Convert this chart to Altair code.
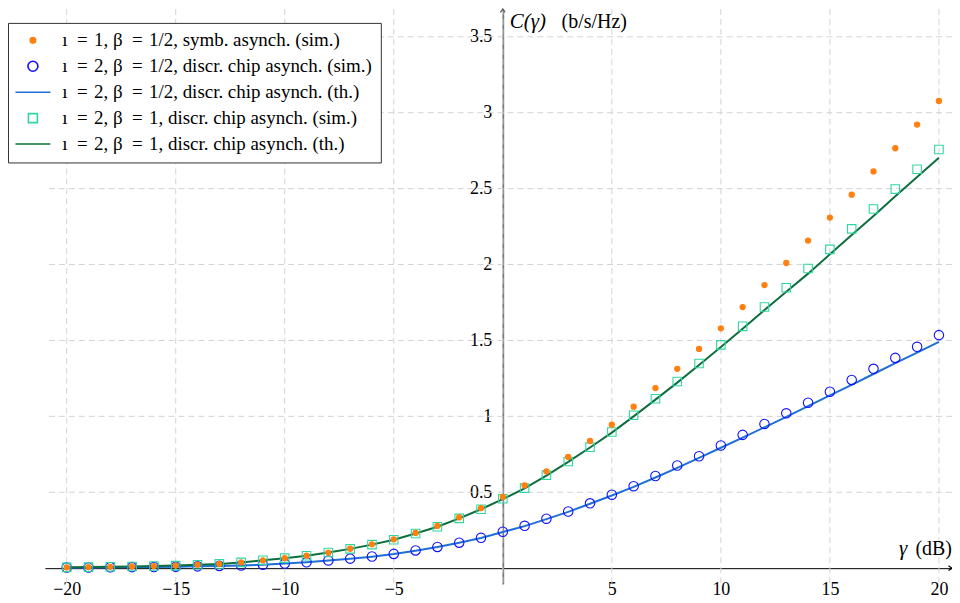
import altair as alt
import pandas as pd

# ---------------- data ----------------
gamma_db = list(range(-20, 21))

sim_symb_half = [0.005, 0.007, 0.009, 0.011, 0.014, 0.017, 0.023, 0.028, 0.038, 0.052,
                 0.066, 0.082, 0.103, 0.128, 0.157, 0.190, 0.232, 0.278, 0.334, 0.395,
                 0.470, 0.545, 0.637, 0.733, 0.838, 0.945, 1.064, 1.186, 1.313, 1.444,
                 1.580, 1.720, 1.865, 2.010, 2.158, 2.309, 2.460, 2.613, 2.766, 2.922, 3.077]

sim_chip_half = [0.004, 0.005, 0.006, 0.007, 0.008, 0.010, 0.012, 0.015, 0.018, 0.023,
                 0.030, 0.039, 0.051, 0.063, 0.077, 0.094, 0.117, 0.140, 0.168, 0.200,
                 0.240, 0.279, 0.326, 0.373, 0.427, 0.484, 0.540, 0.607, 0.676, 0.737,
                 0.808, 0.878, 0.950, 1.020, 1.090, 1.162, 1.240, 1.313, 1.385, 1.458, 1.535]

th_chip_half = [0.004, 0.005, 0.006, 0.007, 0.008, 0.010, 0.012, 0.015, 0.018, 0.023,
                0.030, 0.039, 0.050, 0.062, 0.076, 0.093, 0.115, 0.139, 0.167, 0.199,
                0.238, 0.277, 0.323, 0.371, 0.424, 0.479, 0.535, 0.597, 0.661, 0.726,
                0.793, 0.860, 0.928, 0.997, 1.067, 1.138, 1.208, 1.279, 1.350, 1.420, 1.490]

sim_chip_one = [0.005, 0.007, 0.009, 0.011, 0.014, 0.017, 0.023, 0.028, 0.038, 0.052,
                0.066, 0.082, 0.103, 0.127, 0.155, 0.187, 0.228, 0.273, 0.328, 0.388,
                0.457, 0.527, 0.613, 0.703, 0.797, 0.897, 1.007, 1.116, 1.230, 1.348,
                1.471, 1.593, 1.720, 1.847, 1.974, 2.100, 2.235, 2.366, 2.497, 2.628, 2.758]

th_chip_one = [0.005, 0.007, 0.009, 0.011, 0.014, 0.017, 0.023, 0.028, 0.038, 0.052,
               0.066, 0.082, 0.103, 0.127, 0.155, 0.187, 0.228, 0.273, 0.328, 0.388,
               0.455, 0.525, 0.610, 0.700, 0.795, 0.893, 1.000, 1.110, 1.222, 1.338,
               1.457, 1.577, 1.700, 1.820, 1.940, 2.067, 2.194, 2.320, 2.449, 2.576, 2.703]

series_labels = [
    "ı\u2002=\u20041, β\u2002=\u20041/2, symb. asynch. (sim.)",
    "ı\u2002=\u20042, β\u2002=\u20041/2, discr. chip asynch. (sim.)",
    "ı\u2002=\u20042, β\u2002=\u20041/2, discr. chip asynch. (th.)",
    "ı\u2002=\u20042, β\u2002=\u20041, discr. chip asynch. (sim.)",
    "ı\u2002=\u20042, β\u2002=\u20041, discr. chip asynch. (th.)",
]
series_colors = ["#ff8010", "#1010ff", "#1f6fd6", "#2fd6a0", "#0e6e3e"]
series_fills = ["#ff8010", "transparent", "transparent", "transparent", "transparent"]

x_ticks = [-20, -15, -10, -5, 5, 10, 15, 20]
x_grid = [-20, -15, -10, -5, 0, 5, 10, 15, 20]
y_ticks = [0.5, 1, 1.5, 2, 2.5, 3, 3.5]

X_MIN, X_MAX = -21.0, 20.6
Y_MIN, Y_MAX = -0.105, 3.6835
W, H = 910, 577

# ---------------- tables ----------------
pts = pd.concat([
    pd.DataFrame({"x": gamma_db, "y": sim_chip_half, "series": series_labels[1]}),
    pd.DataFrame({"x": gamma_db, "y": sim_chip_one, "series": series_labels[3]}),
    pd.DataFrame({"x": gamma_db, "y": sim_symb_half, "series": series_labels[0]}),
], ignore_index=True)
lines = pd.concat([
    pd.DataFrame({"x": gamma_db, "y": th_chip_half, "series": series_labels[2]}),
    pd.DataFrame({"x": gamma_db, "y": th_chip_one, "series": series_labels[4]}),
], ignore_index=True)

FONT = "Liberation Serif"
xscale = alt.Scale(domain=[X_MIN, X_MAX], nice=False, zero=False)
yscale = alt.Scale(domain=[Y_MIN, Y_MAX], nice=False, zero=False)
x_off = -(0 - X_MIN) / (X_MAX - X_MIN) * W
y_off = -(0 - Y_MIN) / (Y_MAX - Y_MIN) * H

xaxis = alt.Axis(values=x_ticks, offset=y_off, domainColor="black", domainWidth=1,
                 ticks=False, grid=False, labelFont=FONT, labelFontSize=18,
                 labelColor="black", labelPadding=12, title=None, format="~g")
yaxis = alt.Axis(values=y_ticks, offset=x_off, domainColor="#7a7a7a", domainWidth=1.8,
                 ticks=False, grid=False, labelFont=FONT, labelFontSize=18,
                 labelColor="black", labelPadding=11, title=None, format="~g")

def X(f="x"):
    return alt.X(f"{f}:Q", scale=xscale, axis=xaxis)

def Y(f="y"):
    return alt.Y(f"{f}:Q", scale=yscale, axis=yaxis)

DOT = "M-0.55,0A0.55,0.55 0 1,0 0.55,0A0.55,0.55 0 1,0 -0.55,0Z"
LINE = "M-3.5,0H3.5"
SQ = "M-0.9,-0.9H0.9V0.9H-0.9Z"
series_shapes = [DOT, "circle", LINE, SQ, LINE]

legend = alt.Legend(orient="none", legendX=-37, legendY=14, title=None,
                    strokeColor="#333333", fillColor="white", padding=8,
                    labelFont=FONT, labelFontSize=19, labelColor="black",
                    labelLimit=0, symbolOffset=7.5, labelOffset=20, rowPadding=6,
                    symbolSize=100, symbolStrokeWidth=1.6, cornerRadius=0)

stroke_enc = alt.Stroke("series:N", scale=alt.Scale(domain=series_labels, range=series_colors), legend=legend)
fill_enc = alt.Fill("series:N", scale=alt.Scale(domain=series_labels, range=series_fills), legend=legend)
shape_enc = alt.Shape("series:N", scale=alt.Scale(domain=series_labels, range=series_shapes), legend=legend)

grid_v = alt.Chart(pd.DataFrame({"x": x_grid})).mark_rule(
    color="#d4d4d4", strokeWidth=1, strokeDash=[6, 4]).encode(x=X())
grid_h = alt.Chart(pd.DataFrame({"y": y_ticks})).mark_rule(
    color="#d4d4d4", strokeWidth=1, strokeDash=[6, 4]).encode(y=Y())

line_layer = alt.Chart(lines).mark_line(strokeWidth=2).encode(
    x=X(), y=Y(), stroke=stroke_enc, order="x:Q")

point_layer = alt.Chart(pts).mark_point(size=90, strokeWidth=1.1, opacity=1).encode(
    x=X(), y=Y(), stroke=stroke_enc, fill=fill_enc, shape=shape_enc)

# axis arrows at the ends of the axes
arr_y = alt.Chart(pd.DataFrame({"x": [0.0], "y": [Y_MAX]})).mark_point(
    shape="M-0.6,0.9L0,0L0.6,0.9", size=60, stroke="#555555", strokeWidth=1.2,
    filled=False, opacity=1).encode(x=X(), y=Y())
arr_x = alt.Chart(pd.DataFrame({"x": [X_MAX], "y": [0.0]})).mark_point(
    shape="M-0.9,-0.6L0,0L-0.9,0.6", size=60, stroke="black", strokeWidth=1.2,
    filled=False, opacity=1).encode(x=X(), y=Y())

# axis titles
ytitle_a = alt.Chart(pd.DataFrame({"x": [0.32], "y": [3.6], "t": ["C(γ)"]})).mark_text(
    font=FONT, fontSize=21, fontStyle="italic", align="left", baseline="middle",
    color="black").encode(x=X(), y=Y(), text="t:N")
ytitle_b = alt.Chart(pd.DataFrame({"x": [0.32], "y": [3.6], "t": ["(b/s/Hz)"]})).mark_text(
    font=FONT, fontSize=20, align="left", baseline="middle", dx=52,
    color="black").encode(x=X(), y=Y(), text="t:N")
xtitle_a = alt.Chart(pd.DataFrame({"x": [X_MAX], "y": [0.125], "t": ["(dB)"]})).mark_text(
    font=FONT, fontSize=20, align="right", baseline="middle", dx=0,
    color="black").encode(x=X(), y=Y(), text="t:N")
xtitle_b = alt.Chart(pd.DataFrame({"x": [X_MAX], "y": [0.125], "t": ["γ"]})).mark_text(
    font=FONT, fontSize=21, fontStyle="italic", align="right", baseline="middle", dx=-45,
    color="black").encode(x=X(), y=Y(), text="t:N")

chart = alt.layer(
    grid_v, grid_h, line_layer, point_layer, arr_y, arr_x,
    ytitle_a, ytitle_b, xtitle_a, xtitle_b
).properties(
    width=W, height=H,
    autosize=alt.AutoSizeParams(type="none"),
    padding={"left": 37, "top": 0, "right": 0, "bottom": 17},
    background="white",
).configure_view(stroke=None).configure_axis(
    labelFont=FONT, labelFontSize=18
).configure_legend(labelFont=FONT)

chart.save("out.html", embed_options={"renderer": "svg", "actions": False})
